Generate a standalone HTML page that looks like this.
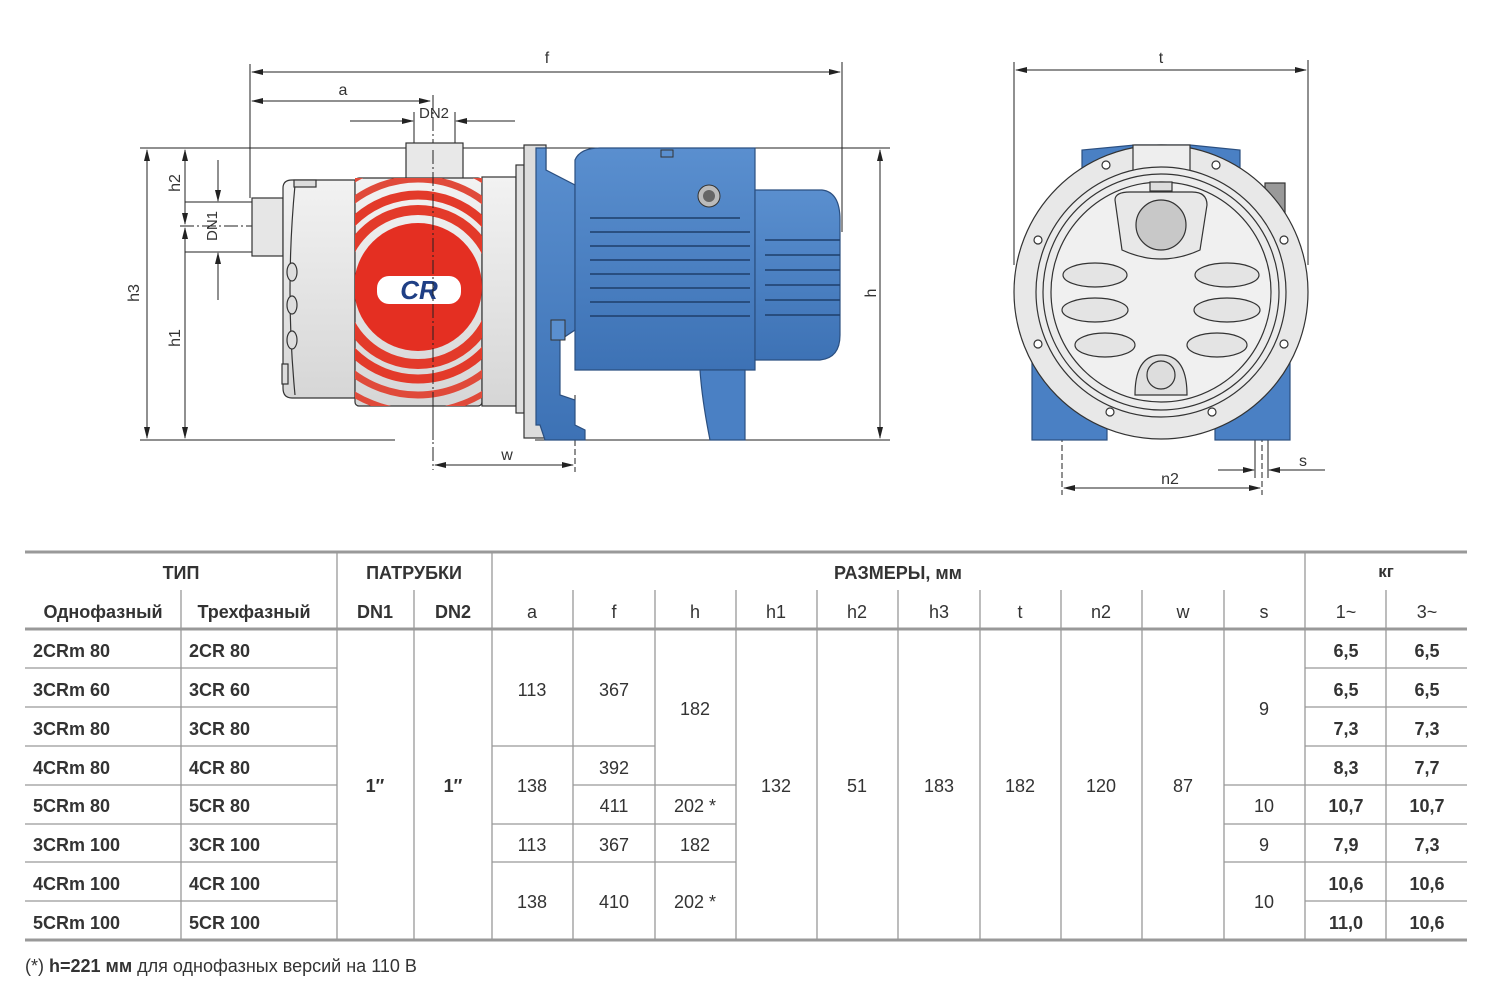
<!DOCTYPE html>
<html><head><meta charset="utf-8"><style>
html,body{margin:0;padding:0;background:#fff;}
svg{display:block;}
text{font-family:"Liberation Sans","DejaVu Sans",sans-serif;fill:#333;}
</style></head><body>
<svg width="1485" height="1000" viewBox="0 0 1485 1000" xmlns="http://www.w3.org/2000/svg">
<defs>
<marker id="ar" markerWidth="12" markerHeight="8" refX="11" refY="4" orient="auto-start-reverse" markerUnits="userSpaceOnUse"><path d="M0,1 L12,4 L0,7 Z" fill="#222"/></marker>
<linearGradient id="sil" x1="0" y1="0" x2="0" y2="1"><stop offset="0" stop-color="#f2f2f2"/><stop offset="0.5" stop-color="#e4e4e4"/><stop offset="1" stop-color="#d6d6d6"/></linearGradient>
<linearGradient id="blu" x1="0" y1="0" x2="0" y2="1"><stop offset="0" stop-color="#5a8fcf"/><stop offset="1" stop-color="#3d72b5"/></linearGradient>
<clipPath id="bodyclip"><rect x="355" y="178" width="127" height="228"/></clipPath>
</defs>

<!-- ===== SIDE VIEW ===== -->
<g stroke="#222" stroke-width="1" fill="none">
 <!-- extension lines -->
 <line x1="250" y1="64" x2="250" y2="198"/>
 <line x1="842" y1="62" x2="842" y2="232"/>
 <line x1="140" y1="148" x2="890" y2="148"/>
 <line x1="140" y1="440" x2="395" y2="440"/>
 <line x1="535" y1="440" x2="890" y2="440"/>
 <line x1="433" y1="95" x2="433" y2="470" stroke-dasharray="14,3,2,3"/>
 <line x1="575" y1="395" x2="575" y2="472" stroke-dasharray="6,3"/>
 <line x1="180" y1="226" x2="318" y2="226" stroke-dasharray="14,3,2,3"/>
 <line x1="185" y1="202" x2="252" y2="202"/>
 <line x1="185" y1="252" x2="252" y2="252"/>
 <line x1="414" y1="112" x2="414" y2="148"/>
 <line x1="455" y1="112" x2="455" y2="148"/>
 <!-- dims -->
 <line x1="252" y1="72" x2="840" y2="72" marker-start="url(#ar)" marker-end="url(#ar)"/>
 <line x1="252" y1="101" x2="430" y2="101" marker-start="url(#ar)" marker-end="url(#ar)"/>
 <line x1="350" y1="121" x2="413" y2="121" marker-end="url(#ar)"/>
 <line x1="515" y1="121" x2="456" y2="121" marker-end="url(#ar)"/>
 <line x1="147" y1="150" x2="147" y2="438" marker-start="url(#ar)" marker-end="url(#ar)"/>
 <line x1="185" y1="150" x2="185" y2="224" marker-start="url(#ar)" marker-end="url(#ar)"/>
 <line x1="185" y1="228" x2="185" y2="438" marker-start="url(#ar)" marker-end="url(#ar)"/>
 <line x1="218" y1="160" x2="218" y2="201" marker-end="url(#ar)"/>
 <line x1="218" y1="300" x2="218" y2="253" marker-end="url(#ar)"/>
 <line x1="880" y1="150" x2="880" y2="438" marker-start="url(#ar)" marker-end="url(#ar)"/>
 <line x1="435" y1="465" x2="573" y2="465" marker-start="url(#ar)" marker-end="url(#ar)"/>
</g>
<g font-size="16">
 <text x="547" y="63" text-anchor="middle">f</text>
 <text x="343" y="95" text-anchor="middle">a</text>
 <text x="434" y="118" text-anchor="middle" font-size="15">DN2</text>
 <text x="507" y="460" text-anchor="middle">w</text>
 <text transform="translate(139,293) rotate(-90)" text-anchor="middle">h3</text>
 <text transform="translate(180,183) rotate(-90)" text-anchor="middle">h2</text>
 <text transform="translate(180,338) rotate(-90)" text-anchor="middle">h1</text>
 <text transform="translate(217,226) rotate(-90)" text-anchor="middle" font-size="15">DN1</text>
 <text transform="translate(876,293) rotate(-90)" text-anchor="middle">h</text>
</g>

<!-- pump body -->
<g stroke="#333" stroke-width="1.2">
 <rect x="252" y="198" width="31" height="58" fill="#e6e6e6"/>
 <path d="M283,188 Q283,180 292,180 L355,180 L355,398 L292,398 Q283,398 283,388 Z" fill="url(#sil)"/>
 <path d="M295,185 Q285,290 295,395" fill="none"/>
 <rect x="294" y="180" width="22" height="7" fill="#ddd"/>
 <ellipse cx="292" cy="272" rx="5" ry="9" fill="#ddd"/>
 <ellipse cx="292" cy="305" rx="5" ry="9" fill="#ddd"/>
 <ellipse cx="292" cy="340" rx="5" ry="9" fill="#ddd"/>
 <rect x="282" y="364" width="6" height="20" fill="#ddd"/>
 <rect x="406" y="143" width="57" height="40" fill="#e8e8e8"/>
 <rect x="355" y="178" width="127" height="228" rx="4" fill="url(#sil)"/>
 <rect x="482" y="177" width="34" height="229" fill="url(#sil)"/>
 <rect x="516" y="165" width="8" height="248" fill="#e0e0e0"/>
</g>
<g clip-path="url(#bodyclip)">
 <circle cx="418" cy="287" r="125" fill="none" stroke="#e04a3a" stroke-width="6"/>
 <circle cx="418" cy="287" r="108" fill="none" stroke="#e04a3a" stroke-width="7"/>
 <circle cx="418" cy="287" r="92" fill="none" stroke="#e33a2a" stroke-width="9"/>
 <circle cx="418" cy="287" r="77" fill="none" stroke="#e33a2a" stroke-width="10"/>
 <circle cx="418" cy="287" r="64" fill="#e42f22"/>
</g>
<rect x="377" y="276" width="84" height="28" rx="12" fill="#fff"/>
<text x="419" y="299" text-anchor="middle" font-size="26" font-weight="bold" font-style="italic" style="fill:#1f3f85">CR</text>
<line x1="433" y1="150" x2="433" y2="440" stroke="#222" stroke-width="1" stroke-dasharray="14,3,2,3"/>

<!-- flange + bracket -->
<g stroke="#2b4f80" stroke-width="1.2">
 <rect x="524" y="145" width="22" height="293" fill="#dcdcdc" stroke="#333"/>
 <path d="M536,148 L546,148 L546,170 L575,185 L575,330 L560,340 L560,395 L575,400 L575,425 L585,430 L585,440 L545,440 L540,425 L536,425 Z" fill="url(#blu)"/>
 <path d="M575,160 Q580,148 600,148 L755,148 L755,370 L575,370 Z" fill="url(#blu)"/>
 <path d="M700,370 L745,370 L745,440 L710,440 Q702,400 700,370 Z" fill="#4a80c4"/>
 <path d="M755,190 L822,190 Q840,192 840,220 L840,335 Q840,358 820,360 L755,360 Z" fill="url(#blu)"/>
</g>
<g stroke="#1e3e6a" stroke-width="1.5">
 <line x1="590" y1="218" x2="740" y2="218"/><line x1="590" y1="232" x2="750" y2="232"/>
 <line x1="590" y1="246" x2="750" y2="246"/><line x1="590" y1="260" x2="750" y2="260"/>
 <line x1="590" y1="274" x2="750" y2="274"/><line x1="590" y1="288" x2="750" y2="288"/>
 <line x1="590" y1="302" x2="750" y2="302"/><line x1="590" y1="316" x2="750" y2="316"/>
 <line x1="765" y1="240" x2="840" y2="240"/><line x1="765" y1="255" x2="840" y2="255"/>
 <line x1="765" y1="270" x2="840" y2="270"/><line x1="765" y1="285" x2="840" y2="285"/>
 <line x1="765" y1="300" x2="840" y2="300"/><line x1="765" y1="315" x2="840" y2="315"/>
</g>
<circle cx="709" cy="196" r="11" fill="#bbb" stroke="#333"/>
<circle cx="709" cy="196" r="6" fill="#666"/>
<rect x="661" y="150" width="12" height="7" fill="#5a8fcf" stroke="#333"/>
<rect x="551" y="320" width="14" height="20" fill="#5a8fcf" stroke="#333"/>

<!-- ===== FRONT VIEW ===== -->
<g stroke="#222" stroke-width="1" fill="none">
 <line x1="1014" y1="62" x2="1014" y2="265"/>
 <line x1="1308" y1="60" x2="1308" y2="265"/>
 <line x1="1016" y1="70" x2="1306" y2="70" marker-start="url(#ar)" marker-end="url(#ar)"/>
 <line x1="1064" y1="488" x2="1260" y2="488" marker-start="url(#ar)" marker-end="url(#ar)"/>
 <line x1="1062" y1="400" x2="1062" y2="495" stroke-dasharray="6,3"/>
 <line x1="1262" y1="400" x2="1262" y2="495" stroke-dasharray="6,3"/>
 <line x1="1255" y1="440" x2="1255" y2="478"/>
 <line x1="1268" y1="440" x2="1268" y2="478"/>
 <line x1="1218" y1="470" x2="1254" y2="470" marker-end="url(#ar)"/>
 <line x1="1325" y1="470" x2="1269" y2="470" marker-end="url(#ar)"/>
</g>
<g font-size="16">
 <text x="1161" y="63" text-anchor="middle">t</text>
 <text x="1170" y="484" text-anchor="middle">n2</text>
 <text x="1303" y="466" text-anchor="middle">s</text>
</g>
<g stroke="#2b4f80" stroke-width="1.2" fill="#4a80c4">
 <path d="M1082,168 L1082,150 L1135,145 L1190,145 L1240,150 L1240,170 Z"/>
 <rect x="1032" y="360" width="75" height="80"/>
 <rect x="1215" y="360" width="75" height="80"/>
 <rect x="1265" y="183" width="20" height="30" fill="#999" stroke="#333"/>
</g>
<g stroke="#333" stroke-width="1.2">
 <circle cx="1161" cy="292" r="147" fill="#e8e8e8"/>
 <rect x="1133" y="145" width="57" height="36" fill="#eee"/>
 <circle cx="1161" cy="292" r="125" fill="#ececec"/>
 <circle cx="1161" cy="292" r="118" fill="none"/>
 <circle cx="1161" cy="292" r="110" fill="#f0f0f0"/>
 <path d="M1115,200 Q1115,192 1130,192 L1192,192 Q1207,192 1207,205 L1200,250 Q1161,268 1122,250 Z" fill="#e8e8e8"/>
 <circle cx="1161" cy="225" r="25" fill="#c8c8c8"/>
 <path d="M1135,395 Q1135,355 1161,355 Q1187,355 1187,395 Z" fill="#e0e0e0"/>
 <circle cx="1161" cy="375" r="14" fill="#ddd"/>
 <rect x="1150" y="182" width="22" height="9" fill="#ddd"/>
 <g fill="#e4e4e4">
  <ellipse cx="1095" cy="275" rx="32" ry="12"/><ellipse cx="1227" cy="275" rx="32" ry="12"/>
  <ellipse cx="1095" cy="310" rx="33" ry="12"/><ellipse cx="1227" cy="310" rx="33" ry="12"/>
  <ellipse cx="1105" cy="345" rx="30" ry="12"/><ellipse cx="1217" cy="345" rx="30" ry="12"/>
 </g>
 <g fill="#fff">
  <circle cx="1106" cy="165" r="4"/><circle cx="1216" cy="165" r="4"/>
  <circle cx="1038" cy="240" r="4"/><circle cx="1284" cy="240" r="4"/>
  <circle cx="1038" cy="344" r="4"/><circle cx="1284" cy="344" r="4"/>
  <circle cx="1110" cy="412" r="4"/><circle cx="1212" cy="412" r="4"/>
 </g>
</g>

<!-- ===== TABLE ===== -->
<g stroke="#999" stroke-width="1.3">
 <line x1="25" y1="552" x2="1467" y2="552" stroke-width="3"/>
 <line x1="25" y1="629" x2="1467" y2="629" stroke-width="3"/>
 <line x1="25" y1="940" x2="1467" y2="940" stroke-width="3"/>
 <!-- full verticals -->
 <line x1="337" y1="552" x2="337" y2="940"/>
 <line x1="492" y1="552" x2="492" y2="940"/>
 <line x1="1305" y1="552" x2="1305" y2="940"/>
 <!-- sub verticals -->
 <g>
  <line x1="181" y1="590" x2="181" y2="940"/>
  <line x1="414" y1="590" x2="414" y2="940"/>
  <line x1="573" y1="590" x2="573" y2="940"/>
  <line x1="655" y1="590" x2="655" y2="940"/>
  <line x1="736" y1="590" x2="736" y2="940"/>
  <line x1="817" y1="590" x2="817" y2="940"/>
  <line x1="898" y1="590" x2="898" y2="940"/>
  <line x1="980" y1="590" x2="980" y2="940"/>
  <line x1="1061" y1="590" x2="1061" y2="940"/>
  <line x1="1142" y1="590" x2="1142" y2="940"/>
  <line x1="1224" y1="590" x2="1224" y2="940"/>
  <line x1="1386" y1="590" x2="1386" y2="940"/>
 </g>
 <!-- row lines -->
 <line x1="25" y1="668" x2="337" y2="668"/><line x1="25" y1="707" x2="337" y2="707"/>
 <line x1="25" y1="746" x2="337" y2="746"/><line x1="25" y1="785" x2="337" y2="785"/>
 <line x1="25" y1="824" x2="337" y2="824"/><line x1="25" y1="862" x2="337" y2="862"/>
 <line x1="25" y1="901" x2="337" y2="901"/>
 <line x1="1305" y1="668" x2="1467" y2="668"/><line x1="1305" y1="707" x2="1467" y2="707"/>
 <line x1="1305" y1="746" x2="1467" y2="746"/><line x1="1305" y1="785" x2="1467" y2="785"/>
 <line x1="1305" y1="824" x2="1467" y2="824"/><line x1="1305" y1="862" x2="1467" y2="862"/>
 <line x1="1305" y1="901" x2="1467" y2="901"/>
 <line x1="492" y1="746" x2="573" y2="746"/><line x1="492" y1="824" x2="573" y2="824"/><line x1="492" y1="862" x2="573" y2="862"/>
 <line x1="573" y1="746" x2="655" y2="746"/><line x1="573" y1="785" x2="655" y2="785"/><line x1="573" y1="824" x2="655" y2="824"/><line x1="573" y1="862" x2="655" y2="862"/>
 <line x1="655" y1="785" x2="736" y2="785"/><line x1="655" y1="824" x2="736" y2="824"/><line x1="655" y1="862" x2="736" y2="862"/>
 <line x1="1224" y1="785" x2="1305" y2="785"/><line x1="1224" y1="824" x2="1305" y2="824"/><line x1="1224" y1="862" x2="1305" y2="862"/>
</g>
<g font-size="18" font-weight="bold" text-anchor="middle">
 <text x="181" y="579">ТИП</text>
 <text x="414" y="579">ПАТРУБКИ</text>
 <text x="898" y="579">РАЗМЕРЫ, мм</text>
 <text x="1386" y="577" font-size="17">кг</text>
 <text x="103" y="618" font-size="18">Однофазный</text>
 <text x="254" y="618" font-size="18">Трехфазный</text>
 <text x="375" y="618">DN1</text>
 <text x="453" y="618">DN2</text>
</g>
<g font-size="18" text-anchor="middle">
 <text x="532" y="618">a</text><text x="614" y="618">f</text><text x="695" y="618">h</text>
 <text x="776" y="618">h1</text><text x="857" y="618">h2</text><text x="939" y="618">h3</text>
 <text x="1020" y="618">t</text><text x="1101" y="618">n2</text><text x="1183" y="618">w</text>
 <text x="1264" y="618">s</text><text x="1346" y="618">1~</text><text x="1427" y="618">3~</text>
</g>
<g font-size="18" font-weight="bold">
 <text x="33" y="657">2CRm 80</text><text x="189" y="657">2CR 80</text>
 <text x="33" y="696">3CRm 60</text><text x="189" y="696">3CR 60</text>
 <text x="33" y="735">3CRm 80</text><text x="189" y="735">3CR 80</text>
 <text x="33" y="774">4CRm 80</text><text x="189" y="774">4CR 80</text>
 <text x="33" y="812">5CRm 80</text><text x="189" y="812">5CR 80</text>
 <text x="33" y="851">3CRm 100</text><text x="189" y="851">3CR 100</text>
 <text x="33" y="890">4CRm 100</text><text x="189" y="890">4CR 100</text>
 <text x="33" y="929">5CRm 100</text><text x="189" y="929">5CR 100</text>
</g>
<g font-size="18" font-weight="bold" text-anchor="middle">
 <text x="375" y="792">1″</text><text x="453" y="792">1″</text>
 <text x="1346" y="657">6,5</text><text x="1427" y="657">6,5</text>
 <text x="1346" y="696">6,5</text><text x="1427" y="696">6,5</text>
 <text x="1346" y="735">7,3</text><text x="1427" y="735">7,3</text>
 <text x="1346" y="774">8,3</text><text x="1427" y="774">7,7</text>
 <text x="1346" y="812">10,7</text><text x="1427" y="812">10,7</text>
 <text x="1346" y="851">7,9</text><text x="1427" y="851">7,3</text>
 <text x="1346" y="890">10,6</text><text x="1427" y="890">10,6</text>
 <text x="1346" y="929">11,0</text><text x="1427" y="929">10,6</text>
</g>
<g font-size="18" text-anchor="middle">
 <text x="532" y="696">113</text><text x="532" y="792">138</text><text x="532" y="851">113</text><text x="532" y="908">138</text>
 <text x="614" y="696">367</text><text x="614" y="774">392</text><text x="614" y="812">411</text><text x="614" y="851">367</text><text x="614" y="908">410</text>
 <text x="695" y="715">182</text><text x="695" y="812">202 *</text><text x="695" y="851">182</text><text x="695" y="908">202 *</text>
 <text x="776" y="792">132</text><text x="857" y="792">51</text><text x="939" y="792">183</text>
 <text x="1020" y="792">182</text><text x="1101" y="792">120</text><text x="1183" y="792">87</text>
 <text x="1264" y="715">9</text><text x="1264" y="812">10</text><text x="1264" y="851">9</text><text x="1264" y="908">10</text>
</g>
<text x="25" y="972" font-size="18">(*) <tspan font-weight="bold">h=221 мм</tspan> для однофазных версий на 110 В</text>
</svg>
</body></html>
